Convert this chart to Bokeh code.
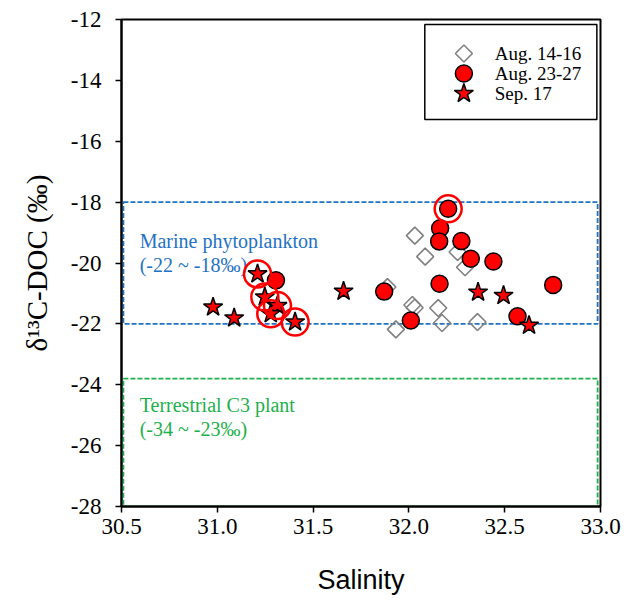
import math
from bokeh.plotting import figure
from bokeh.models import FixedTicker
from bokeh.core.properties import value
from bokeh.embed import file_html
from bokeh.resources import INLINE

# ---- data ----
aug14_sal = [32.031, 32.085, 32.254, 32.293, 31.888, 32.018, 32.030, 32.153, 32.173, 32.358, 31.932]
aug14_d13 = [-19.10, -19.79, -19.64, -20.14, -20.79, -21.38, -21.47, -21.48, -21.97, -21.94, -22.18]

aug23_sal = [32.205, 32.163, 32.158, 32.274, 32.323, 32.441, 32.160, 32.753, 31.871, 32.010, 32.567, 31.306]
aug23_d13 = [-18.22, -18.86, -19.29, -19.28, -19.86, -19.95, -20.68, -20.72, -20.94, -21.89, -21.75, -20.57]

sep17_sal = [31.659, 32.361, 32.494, 32.627, 31.210, 31.248, 31.314, 31.279, 31.406, 30.978, 31.088]
sep17_d13 = [-20.93, -20.96, -21.07, -22.05, -20.36, -21.12, -21.40, -21.67, -21.94, -21.45, -21.81]

ring_sal = [31.210, 31.248, 31.314, 31.279, 31.406, 32.205]
ring_d13 = [-20.36, -21.12, -21.40, -21.67, -21.94, -18.22]

marine_range = [-22.0, -18.0]
terr_range = [-28.0, -23.8]
box_sal = [30.51, 32.985]

x_ticks = [30.5, 31.0, 31.5, 32.0, 32.5, 33.0]
x_tick_labels = ["30.5", "31.0", "31.5", "32.0", "32.5", "33.0"]
y_ticks = [-12, -14, -16, -18, -20, -22, -24, -26, -28]
y_tick_labels = ["-12", "-14", "-16", "-18", "-20", "-22", "-24", "-26", "-28"]

series_names = ["Aug. 14-16", "Aug. 23-27", "Sep. 17"]
marine_text = ["Marine phytoplankton", "(-22 ~ -18\u2030)"]
terr_text = ["Terrestrial C3 plant", "(-34 ~ -23\u2030)"]

SERIF = "Liberation Serif"
BLUE = "#1F72C4"
GREEN = "#1DB04B"
RED = "#FF0000"

p = figure(width=628, height=603, x_range=(30.5, 33.0), y_range=(-28, -12),
           output_backend="svg", toolbar_location=None,
           min_border_left=121, min_border_right=28, min_border_top=19, min_border_bottom=97)
p.background_fill_color = "white"
p.border_fill_color = "white"
p.grid.visible = False
p.outline_line_color = "black"
p.outline_line_width = 2

# reference-range boxes
p.quad(left=[box_sal[0]], right=[box_sal[1]], bottom=[marine_range[0]], top=[marine_range[1]],
       fill_color=None, line_color=BLUE, line_width=1.8, line_dash="5 2")
p.quad(left=[box_sal[0]], right=[box_sal[1]], bottom=[terr_range[0]], top=[terr_range[1]],
       fill_color=None, line_color=GREEN, line_width=1.8, line_dash="5 2")

p.text(x=[30.595, 30.595], y=[-19.29, -20.05], text=marine_text, text_color=BLUE,
       text_font=value(SERIF), text_font_size="20px", text_baseline="middle")
p.text(x=[30.595, 30.595], y=[-24.68, -25.44], text=terr_text, text_color=GREEN,
       text_font=value(SERIF), text_font_size="20px", text_baseline="middle")

# data
DIAMOND = dict(marker="square", size=12, angle=math.pi / 4,
               fill_color=None, line_color="#808080", line_width=1.6)
CIRCLE = dict(marker="circle", size=17, fill_color=RED, line_color="black", line_width=1.5)
STAR = dict(marker="star", size=20, fill_color=RED, line_color="black", line_width=1.5)

p.scatter(aug14_sal, aug14_d13, **DIAMOND)
p.scatter(aug23_sal, aug23_d13, **CIRCLE)
p.scatter(sep17_sal, sep17_d13, **STAR)
p.scatter(ring_sal, ring_d13, marker="circle", size=27,
          fill_color=None, line_color=RED, line_width=2.5)

# legend (box, symbols, labels)
p.quad(left=[32.083], right=[32.981], bottom=[-15.285], top=[-12.164],
       fill_color="white", line_color="black", line_width=1.5)
leg_y = [-13.117, -13.774, -14.431]
p.scatter([32.287], [leg_y[0]], **DIAMOND)
p.scatter([32.287], [leg_y[1]], **CIRCLE)
p.scatter([32.287], [leg_y[2]], **STAR)
p.text(x=[32.448] * 3, y=leg_y, text=series_names, text_color="black",
       text_font=value(SERIF), text_font_size="19px", text_baseline="middle")

# axes
p.xaxis.ticker = FixedTicker(ticks=x_ticks)
p.xaxis.major_label_overrides = dict(zip(x_ticks, x_tick_labels))
p.yaxis.ticker = FixedTicker(ticks=y_ticks)
p.yaxis.major_label_overrides = dict(zip(y_ticks, y_tick_labels))
for ax in (p.xaxis, p.yaxis):
    ax.axis_line_width = 2
    ax.axis_line_color = "black"
    ax.major_tick_line_width = 1.5
    ax.major_tick_line_color = "black"
    ax.major_tick_in = 0
    ax.major_tick_out = 6
    ax.minor_tick_line_color = None
    ax.major_label_text_font = SERIF
    ax.major_label_text_font_size = "23px"
    ax.major_label_text_color = "black"
    ax.axis_label_text_font_style = "normal"
    ax.axis_label_text_color = "black"
p.xaxis.major_label_standoff = 6
p.yaxis.major_label_standoff = 14
p.xaxis.axis_label = "Salinity"
p.xaxis.axis_label_text_font = "Liberation Sans"
p.xaxis.axis_label_text_font_size = "27px"
p.xaxis.axis_label_standoff = 28
p.yaxis.axis_label = "\u03b4\u00b9\u00b3C-DOC (\u2030)"
p.yaxis.axis_label_text_font = SERIF
p.yaxis.axis_label_text_font_size = "29px"
p.yaxis.axis_label_standoff = 15

open("out.html", "w").write(file_html(p, INLINE))
